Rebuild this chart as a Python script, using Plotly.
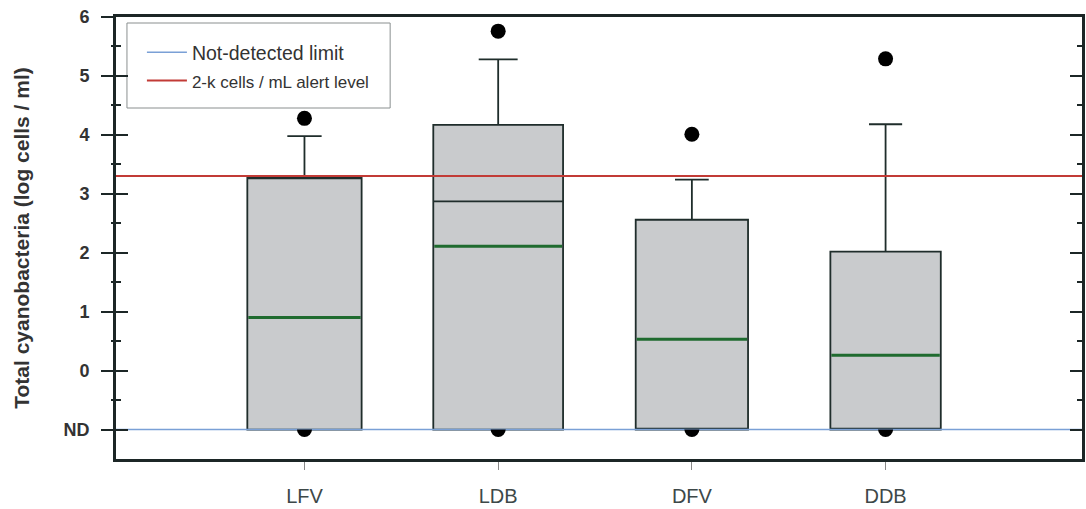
import plotly.graph_objects as go

# ---------------- data ----------------
categories = ["LFV", "LDB", "DFV", "DDB"]
q1_vals = [-1.0, -1.0, -1.0, -1.0]
median_vals = [3.28, 2.87, -1.0, -1.0]
q3_vals = [3.28, 4.17, 2.56, 2.02]
mean_vals = [0.90, 2.11, 0.53, 0.26]
lower_whisker = [-1.0, -1.0, -1.0, -1.0]
upper_whisker = [3.98, 5.28, 3.24, 4.18]
outliers = [[4.28, -1.0], [5.76, -1.0], [4.01, -1.0], [5.29, -1.0]]
box_widths = [0.59, 0.67, 0.58, 0.57]

ND_VALUE = -1.0
ALERT_LEVEL = 3.30  # log10(2000)

y_tickvals = [-1, 0, 1, 2, 3, 4, 5, 6]
y_ticktext = ["ND", "0", "1", "2", "3", "4", "5", "6"]
y_minor = [-0.5, 0.5, 1.5, 2.5, 3.5, 4.5, 5.5]
x_positions = [0, 1, 2, 3]

X_RANGE = [-0.973, 4.014]
Y_RANGE = [-1.5, 6.0]

# ---------------- styles ----------------
AXIS = "#1c2626"
BOX_FILL = "#c9cbcd"
BOX_LINE = "#1f2d2b"
GREEN = "#1f6b2f"
RED = "#c23b36"
BLUE = "#7aa0d6"
FONT = "Liberation Sans"

W, H = 1086, 509
ML, MR, MT, MB = 116, 1, 17, 50
PW, PH = W - ML - MR, H - MT - MB


def px_x(p):
    return (p - ML) / PW


def px_y(p):
    return (H - MB - p) / PH


fig = go.Figure()

# boxes (quartiles, median, whiskers)
for i, cat in enumerate(categories):
    fig.add_trace(go.Box(
        x=[x_positions[i]], q1=[q1_vals[i]], median=[median_vals[i]], q3=[q3_vals[i]],
        lowerfence=[lower_whisker[i]], upperfence=[upper_whisker[i]],
        width=box_widths[i], whiskerwidth=0.3, boxpoints=False,
        fillcolor=BOX_FILL, line=dict(color=BOX_LINE, width=1.8),
        showlegend=False, hoverinfo="skip", name=cat,
    ))

# mean lines (green)
for i, cat in enumerate(categories):
    m = mean_vals[i]
    fig.add_trace(go.Box(
        x=[x_positions[i]], q1=[m], median=[m], q3=[m], lowerfence=[m], upperfence=[m],
        width=box_widths[i] - 0.01, whiskerwidth=0, boxpoints=False,
        fillcolor="rgba(0,0,0,0)", line=dict(color=GREEN, width=3),
        showlegend=False, hoverinfo="skip", name=cat + " mean",
    ))

# reference lines
fig.add_trace(go.Scatter(
    x=X_RANGE, y=[ND_VALUE, ND_VALUE], mode="lines",
    line=dict(color=BLUE, width=1.6), name="Not-detected limit",
    legendgroup="a",
))
fig.add_trace(go.Scatter(
    x=X_RANGE, y=[ALERT_LEVEL, ALERT_LEVEL], mode="lines",
    line=dict(color=RED, width=2),
    name="<span style='font-size:17px'>2-k cells / mL alert level</span>",
    legendgroup="b",
))

# outliers above ND
ox, oy, nx, ny = [], [], [], []
for i, pts in enumerate(outliers):
    for v in pts:
        if v > ND_VALUE:
            ox.append(x_positions[i]); oy.append(v)
        else:
            nx.append(x_positions[i]); ny.append(v)

fig.add_trace(go.Scatter(
    x=ox, y=oy, mode="markers", marker=dict(color="black", size=15),
    showlegend=False, hoverinfo="skip",
))
# outliers at ND, partly hidden behind the boxes (clipped below ND line)
fig.add_trace(go.Scatter(
    x=nx, y=ny, mode="markers", marker=dict(color="black", size=15),
    showlegend=False, hoverinfo="skip", yaxis="y2", cliponaxis=True,
))

nd_frac = (ND_VALUE - Y_RANGE[0]) / (Y_RANGE[1] - Y_RANGE[0])

fig.update_layout(
    width=W, height=H,
    margin=dict(l=ML, r=MR, t=MT, b=MB),
    paper_bgcolor="white", plot_bgcolor="rgba(0,0,0,0)",
    font=dict(family=FONT, color="#333"),
    boxmode="overlay",
    xaxis=dict(
        range=X_RANGE, tickvals=x_positions, ticktext=categories,
        showline=True, linewidth=3, linecolor=AXIS, mirror=True,
        ticks="outside", ticklen=8, tickwidth=1, tickcolor="#888",
        showgrid=False, zeroline=False,
        tickfont=dict(size=20, color="#3d4848", family=FONT),
        ticklabelstandoff=9,
    ),
    yaxis=dict(
        range=Y_RANGE, tickvals=y_tickvals, showticklabels=False,
        showline=True, linewidth=3, linecolor=AXIS, mirror="ticks",
        ticks="inside", ticklen=12, tickwidth=2, tickcolor=AXIS,
        minor=dict(tickvals=y_minor, ticks="inside", ticklen=5, tickwidth=2, tickcolor=AXIS),
        showgrid=False, zeroline=False,
    ),
    yaxis3=dict(
        range=Y_RANGE, overlaying="y", side="left", anchor="x",
        tickvals=y_tickvals, ticktext=y_ticktext,
        ticks="outside", ticklen=14, tickwidth=2, tickcolor=AXIS,
        minor=dict(tickvals=y_minor, ticks="outside", ticklen=4, tickwidth=2, tickcolor=AXIS),
        showline=False, showgrid=False, zeroline=False,
        tickfont=dict(size=18, color="#333", family=FONT, weight="bold"),
        ticklabelstandoff=8,
        title=dict(text="Total cyanobacteria (log cells / ml)",
                   font=dict(size=21, color="#333", family=FONT, weight="bold"),
                   standoff=28),
    ),
    yaxis2=dict(
        domain=[0, nd_frac], range=[Y_RANGE[0], ND_VALUE], anchor="x",
        visible=False, showgrid=False, zeroline=False,
    ),
    legend=dict(
        x=px_x(142), y=px_y(33), xanchor="left", yanchor="top",
        bgcolor="rgba(0,0,0,0)", borderwidth=0,
        font=dict(size=19.5, color="#333", family=FONT),
        tracegroupgap=0, traceorder="grouped",
        itemwidth=40,
    ),
    shapes=[dict(
        type="rect", xref="paper", yref="paper",
        x0=px_x(127), x1=px_x(391), y0=px_y(108), y1=px_y(23),
        fillcolor="white", line=dict(color="#8a8f8f", width=1), layer="below",
    )],
)

# dummy trace to activate yaxis3
fig.add_trace(go.Scatter(x=[None], y=[None], yaxis="y3", showlegend=False, hoverinfo="skip"))

fig.write_html("out.html")
